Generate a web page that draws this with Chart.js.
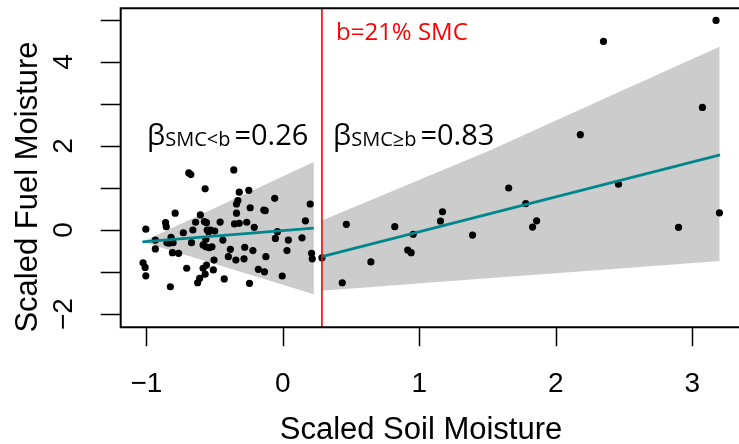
<!DOCTYPE html>
<html>
<head>
<meta charset="utf-8">
<script src="https://cdn.jsdelivr.net/npm/chart.js@4.4.1/dist/chart.umd.min.js"></script>
<style>
  html, body { margin: 0; padding: 0; background: #fff; overflow: hidden; }
  #wrap { position: relative; width: 739px; height: 444px; }
</style>
</head>
<body>
<div id="wrap"><canvas id="chart"></canvas></div>
<script>
// Observations below the soil-moisture breakpoint
const lowSoil = [
  -0.69, -0.675, -0.36, -0.57, -0.32, -0.25, -0.33, -0.34, -0.06, 0.20,
  -0.24, -0.14, -0.13, -0.79, -0.605, -0.34, -1.005, -0.86, -0.855, -0.64,
  -0.575, -0.56, -0.46, -0.355, -0.32, -0.265, -0.21, 0.165, -0.555, -0.545,
  -0.53, -0.50, -0.73, -0.66, -0.82, -0.815, -0.935, -0.85, -0.835, -0.805,
  -0.67, -0.565, -0.44, -0.04, -0.055, 0.04, 0.14, -0.935, -0.81, -0.765,
  -0.585, -0.565, -0.54, -0.52, -0.385, -0.28, -0.22, 0.03, -0.40, -0.345,
  -0.285, -0.125, -0.505, 0.21, 0.215, -0.005, -1.025, -1.01, -1.005, -0.705,
  -0.585, -0.56, -0.57, -0.51, -0.61, -0.625, -0.43, -0.18, -0.135, -0.825,
  -0.245
];
const lowFuel = [
  1.36, 1.32, 1.43, 0.98, 0.90, 0.945, 0.70, 0.62, 0.755, 0.62,
  0.53, 0.475, 0.46, 0.40, 0.36, 0.40, 0.02, 0.175, 0.08, 0.185,
  0.20, 0.175, 0.19, 0.145, 0.16, 0.185, 0.065, 0.22, 0.0, -0.04,
  0.0, -0.025, -0.065, 0.0, -0.175, -0.24, -0.24, -0.30, -0.315, -0.30,
  -0.30, -0.22, -0.24, -0.04, -0.20, -0.24, -0.185, -0.45, -0.54, -0.555,
  -0.355, -0.40, -0.42, -0.40, -0.46, -0.41, -0.49, -0.49, -0.635, -0.715,
  -0.685, -0.635, -0.715, -0.555, -0.685, -1.095, -0.78, -0.89, -1.09, -0.91,
  -0.91, -0.835, -1.05, -0.95, -1.15, -1.255, -1.165, -0.935, -0.995, -1.35,
  -1.27
];

// Observations at or above the breakpoint
const highSoil = [
  0.286, 0.465, 0.435, 0.645, 0.82, 0.915, 0.94, 0.955, 1.155, 1.17,
  1.39, 1.655, 1.78, 1.86, 1.83, 2.18, 2.35, 2.46, 2.90, 3.075,
  3.175, 3.20
];
const highFuel = [
  -0.66, 0.135, -1.255, -0.76, 0.08, -0.475, -0.54, -0.10, 0.215, 0.435,
  -0.12, 1.0, 0.63, 0.22, 0.07, 2.27, 4.49, 1.09, 0.065, 2.92,
  4.99, 0.41
];

// Segmented fit: breakpoint and slopes on each side
const breakpoint = 0.286;
const slopeLow = 0.26;
const slopeHigh = 0.83;
const lowFitX = [-1.03, 0.226];
const lowFitStart = -0.28;
const highFitX = [0.286, 3.205];
const highFitStart = -0.635;

// Confidence bands (upper / lower edges)
const lowBandX = [-1.03, 0.226];
const lowBandUpper = [-0.28, 1.62];
const lowBandLower = [-0.28, -1.53];
const highBandX = [0.286, 1.524, 2.398, 3.20];
const highBandUpper = [0.225, 1.905, 3.19, 4.365];
const highBandLower = [-1.445, -1.145, -0.935, -0.74];

// Axes
const xTicks = [-1, 0, 1, 2, 3];
const yTicks = [-2, -1, 0, 1, 2, 3, 4, 5];
const yLabels = [-2, 0, 2, 4];

const toPts = (xs, ys) => xs.map((x, i) => ({ x: x, y: ys[i] }));
const fitLine = (xs, y0, slope) => xs.map(x => ({ x: x, y: y0 + slope * (x - xs[0]) }));
const bandShape = (xs, up, lo) => {
  const pts = toPts(xs, up);
  for (let i = xs.length - 1; i >= 0; i--) pts.push({ x: xs[i], y: lo[i] });
  pts.push({ x: xs[0], y: up[0] });
  return pts;
};

const X_MIN = -1.189, X_MAX = 3.314, Y_MIN = -2.316, Y_MAX = 5.279;
const AXIS_FONT = '"Liberation Sans", Arial, sans-serif';
const NOTE_FONT = '"Open Sans", "Noto Sans", sans-serif';
const minus = v => String(v).replace('-', '\u2212');

// Frame, ticks, axis labels and annotations, in the style of an R base plot
const frame = {
  id: 'frame',
  afterDraw(chart) {
    const { ctx, chartArea: a, scales: { x, y } } = chart;
    ctx.save();
    ctx.strokeStyle = '#000';
    ctx.lineWidth = 2;
    ctx.beginPath();
    ctx.moveTo(chart.width + 2, a.top);
    ctx.lineTo(a.left, a.top);
    ctx.lineTo(a.left, a.bottom);
    ctx.lineTo(chart.width + 2, a.bottom);
    ctx.stroke();

    ctx.lineWidth = 1.5;
    ctx.beginPath();
    xTicks.forEach(v => {
      const px = Math.round(x.getPixelForValue(v)) + 0.5;
      ctx.moveTo(px, a.bottom);
      ctx.lineTo(px, a.bottom + 19);
    });
    yTicks.forEach(v => {
      const py = Math.round(y.getPixelForValue(v)) + 0.5;
      ctx.moveTo(a.left, py);
      ctx.lineTo(a.left - 20, py);
    });
    ctx.stroke();

    ctx.fillStyle = '#000';
    ctx.textAlign = 'center';
    ctx.textBaseline = 'middle';
    ctx.font = '28px ' + AXIS_FONT;
    xTicks.forEach(v => ctx.fillText(minus(v), x.getPixelForValue(v), 384));
    yLabels.forEach(v => {
      ctx.save();
      ctx.translate(64, y.getPixelForValue(v));
      ctx.rotate(-Math.PI / 2);
      ctx.fillText(minus(v), 0, 0);
      ctx.restore();
    });

    ctx.font = '31px ' + AXIS_FONT;
    ctx.fillText('Scaled Soil Moisture', 421, 430);
    ctx.save();
    ctx.translate(28, 187);
    ctx.rotate(-Math.PI / 2);
    ctx.fillText('Scaled Fuel Moisture', 0, 0);
    ctx.restore();

    // breakpoint label
    ctx.textAlign = 'left';
    ctx.textBaseline = 'alphabetic';
    ctx.fillStyle = '#ff0000';
    ctx.font = '24px ' + NOTE_FONT;
    ctx.fillText('b=21% SMC', 336, 40);

    // slope labels: beta with a subscript
    const slopeNote = (x0, sub, val) => {
      let cx = x0;
      ctx.fillStyle = '#000';
      ctx.font = '29px ' + NOTE_FONT;
      ctx.fillText('\u03B2', cx, 145);
      cx += ctx.measureText('\u03B2').width;
      ctx.font = '20px ' + NOTE_FONT;
      ctx.fillText(sub, cx, 146);
      cx += ctx.measureText(sub).width + 4;
      ctx.font = '29px ' + NOTE_FONT;
      ctx.fillText('=' + val.toFixed(2), cx, 145);
    };
    slopeNote(147, 'SMC<b', slopeLow);
    slopeNote(333, 'SMC\u2265b', slopeHigh);
    ctx.restore();
  }
};

new Chart(document.getElementById('chart'), {
  type: 'scatter',
  data: {
    datasets: [
      {
        data: bandShape(lowBandX, lowBandUpper, lowBandLower),
        showLine: true, fill: 'shape', backgroundColor: '#cccccc',
        borderWidth: 0, pointRadius: 0, order: 5
      },
      {
        data: bandShape(highBandX, highBandUpper, highBandLower),
        showLine: true, fill: 'shape', backgroundColor: '#cccccc',
        borderWidth: 0, pointRadius: 0, order: 5
      },
      {
        data: toPts(lowSoil, lowFuel).concat(toPts(highSoil, highFuel)),
        backgroundColor: '#000', borderWidth: 0, pointRadius: 3.6, order: 4
      },
      {
        data: fitLine(lowFitX, lowFitStart, slopeLow),
        showLine: true, borderColor: '#00868b', borderWidth: 2.8,
        pointRadius: 0, order: 3
      },
      {
        data: fitLine(highFitX, highFitStart, slopeHigh),
        showLine: true, borderColor: '#00868b', borderWidth: 2.8,
        pointRadius: 0, order: 3
      },
      {
        data: [{ x: breakpoint, y: Y_MIN }, { x: breakpoint, y: Y_MAX }],
        showLine: true, borderColor: '#ff0000', borderWidth: 1.6,
        pointRadius: 0, order: 1
      }
    ]
  },
  options: {
    responsive: true,
    maintainAspectRatio: false,
    animation: false,
    layout: { padding: { left: 120.7, top: 8.3, right: 0, bottom: 116.7 } },
    plugins: {
      legend: { display: false },
      tooltip: { enabled: false }
    },
    scales: {
      x: { type: 'linear', min: X_MIN, max: X_MAX, display: false },
      y: { type: 'linear', min: Y_MIN, max: Y_MAX, display: false }
    }
  },
  plugins: [frame]
});
</script>
</body>
</html>
